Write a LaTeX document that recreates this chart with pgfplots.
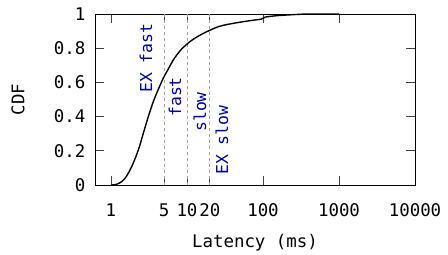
\documentclass[border=0pt]{standalone}
\usepackage{pgfplots}
\pgfplotsset{compat=1.18}
\usepackage{fontspec}
\setmainfont{DejaVu Sans Mono}
\definecolor{lblue}{RGB}{0,0,160}
\definecolor{dgray}{RGB}{160,160,160}
\begin{document}
\begin{tikzpicture}
\useasboundingbox (0,0) rectangle (448bp,255bp);
\begin{axis}[
  at={(95bp,70bp)}, anchor=south west,
  width=320bp, height=171bp, scale only axis,
  xmode=log, xmin=0.616, xmax=10000, ymin=0, ymax=1,
  xtick={1,5,10,20,100,1000,10000},
  xticklabels={1,5,10,20,100,1000,10000},
  ytick={0,0.2,0.4,0.6,0.8,1},
  yticklabels={0,0.2,0.4,0.6,0.8,1},
  minor tick num=0, xminorticks=false,
  tick align=inside, major tick length=9bp,
  tick style={black!75, line width=0.8pt},
  axis line style={black, line width=0.9pt},
  /pgf/number format/assume math mode=true,
  tick label style={font=\fontsize{17.5}{20}\selectfont},
  xticklabel style={anchor=center, yshift=-25bp},
  yticklabel style={anchor=east, xshift=-6bp},
  clip=false,
]
\addplot[dgray, line width=0.8pt, dash pattern=on 3bp off 3bp] coordinates {(5,0) (5,1)};
\addplot[dgray, line width=0.8pt, dash pattern=on 3bp off 3bp] coordinates {(10,0) (10,1)};
\addplot[dgray, line width=0.8pt, dash pattern=on 3bp off 3bp] coordinates {(20,0) (20,1)};
\addplot[black, line width=1.4pt, smooth, tension=0.55] coordinates {
(1.0,0) (1.13,0.002) (1.3,0.012) (1.53,0.039) (1.87,0.107) (2.29,0.205)
(2.66,0.302) (3.1,0.40) (3.6,0.487) (4.2,0.56) (4.88,0.625) (5.7,0.68)
(6.6,0.731) (8.3,0.79) (10.9,0.838) (14,0.87) (18.1,0.896) (25.9,0.926)
(35,0.94) (49.8,0.952) (70,0.962) (95,0.970) (100,0.975) (107,0.982)
(150,0.99) (204,0.994) (300,0.998) (400,1.0) (1000,1.0)
};
\node[rotate=90, anchor=west, inner sep=0, text=lblue, font=\fontsize{16.5}{19}\selectfont] at (axis cs:2.89,0.538) {EX fast};
\node[rotate=90, anchor=west, inner sep=0, text=lblue, font=\fontsize{16.5}{19}\selectfont] at (axis cs:6.95,0.398) {fast};
\node[rotate=90, anchor=west, inner sep=0, text=lblue, font=\fontsize{16.5}{19}\selectfont] at (axis cs:14.8,0.31) {slow};
\node[rotate=90, anchor=west, inner sep=0, text=lblue, font=\fontsize{16.5}{19}\selectfont] at (axis cs:28.9,0.058) {EX slow};
\end{axis}
\node[rotate=90, anchor=center, inner sep=0, font=\fontsize{17.5}{20}\selectfont] at (18bp,155.5bp) {CDF};
\node[anchor=center, inner sep=0, font=\fontsize{17.5}{20}\selectfont] at (255bp,12bp) {Latency (ms)};
\end{tikzpicture}
\end{document}
